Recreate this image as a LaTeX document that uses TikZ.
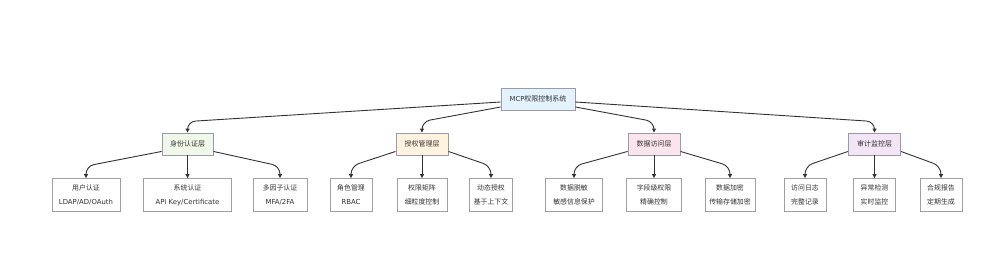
\documentclass[tikz,border=0pt]{standalone}
\usepackage{fontspec}
\setmainfont{DejaVu Sans}
\newfontfamily\cjk{Noto Sans CJK SC}
\newcommand{\zh}[1]{{\cjk #1}}
\usetikzlibrary{arrows.meta}
\definecolor{txt}{HTML}{333333}
\definecolor{linec}{HTML}{333333}
\definecolor{bord}{HTML}{9A9AA8}
\definecolor{bordl}{HTML}{A0A0A0}
\definecolor{rootf}{HTML}{E3F2FD}
\definecolor{af}{HTML}{F1F8E9}
\definecolor{bf}{HTML}{FFF3E0}
\definecolor{cf}{HTML}{FCE4EC}
\definecolor{df}{HTML}{F3E5F5}
\begin{document}
\begin{tikzpicture}[x=1pt,y=-1pt,
  rootbox/.style={draw=bord, fill=rootf, line width=0.9pt, minimum height=22pt, inner sep=0pt, font=\fontsize{6.8}{8}\selectfont, text=txt},
  layerbox/.style={draw=bord, line width=0.9pt, minimum height=22pt, inner sep=0pt, font=\fontsize{7}{8}\selectfont, text=txt},
  leafbox/.style={draw=bordl, fill=white, line width=0.8pt, minimum height=33pt, inner sep=0pt, align=center, font=\fontsize{6.9}{14}\selectfont, text=txt},
  conn/.style={draw=linec, line width=0.9pt, rounded corners=8pt, -{Triangle[length=4pt,width=4pt]}}
]
\useasboundingbox (0,0) rectangle (1000,255);

\node[rootbox, minimum width=74pt] (root) at (538,99) {MCP\zh{\fontsize{7}{8}\selectfont 权限控制系统}};

\node[layerbox, fill=af, minimum width=51pt] (a) at (187.5,144) {\zh{身份认证层}};
\node[layerbox, fill=bf, minimum width=52pt] (b) at (422,144) {\zh{授权管理层}};
\node[layerbox, fill=cf, minimum width=52pt] (c) at (654,144) {\zh{数据访问层}};
\node[layerbox, fill=df, minimum width=52pt] (d) at (874.5,144) {\zh{审计监控层}};

\node[leafbox, minimum width=68pt] (a1) at (86,195) {\zh{用户认证}\\LDAP/AD/OAuth};
\node[leafbox, minimum width=88pt] (a2) at (187.5,195) {\zh{系统认证}\\API Key/Certificate};
\node[leafbox, minimum width=54pt] (a3) at (280,195) {\zh{多因子认证}\\MFA/2FA};

\node[leafbox, minimum width=42pt] (b1) at (351,195) {\zh{角色管理}\\RBAC};
\node[leafbox, minimum width=50pt] (b2) at (422,195) {\zh{权限矩阵}\\\zh{细粒度控制}};
\node[leafbox, minimum width=43pt] (b3) at (491,195) {\zh{动态授权}\\\zh{基于上下文}};

\node[leafbox, minimum width=57pt] (c1) at (574,195) {\zh{数据脱敏}\\\zh{敏感信息保护}};
\node[leafbox, minimum width=55pt] (c2) at (654,195) {\zh{字段级权限}\\\zh{精确控制}};
\node[leafbox, minimum width=50pt] (c3) at (730,195) {\zh{数据加密}\\\zh{传输存储加密}};

\node[leafbox, minimum width=42pt] (d1) at (805,195) {\zh{访问日志}\\\zh{完整记录}};
\node[leafbox, minimum width=42pt] (d2) at (874.5,195) {\zh{异常检测}\\\zh{实时监控}};
\node[leafbox, minimum width=42pt] (d3) at (941,195) {\zh{合规报告}\\\zh{定期生成}};

% root to layers
\draw[conn] ([yshift=-3pt]root.west) -- ([yshift=11pt]a.north) -- (a.north);
\draw[conn] ([yshift=-8pt]root.west) -- ([yshift=11pt]b.north) -- (b.north);
\draw[conn] ([yshift=-8pt]root.east) -- ([yshift=11pt]c.north) -- (c.north);
\draw[conn] ([yshift=-3pt]root.east) -- ([yshift=11pt]d.north) -- (d.north);

% layers to leaves
\foreach \p in {a,b,c,d}{
  \draw[conn] ([yshift=4pt]\p.south west) -- ([yshift=12pt]\p1.north) -- (\p1.north);
  \draw[conn] (\p.south) -- (\p2.north);
  \draw[conn] ([yshift=4pt]\p.south east) -- ([yshift=12pt]\p3.north) -- (\p3.north);
}
\end{tikzpicture}
\end{document}
